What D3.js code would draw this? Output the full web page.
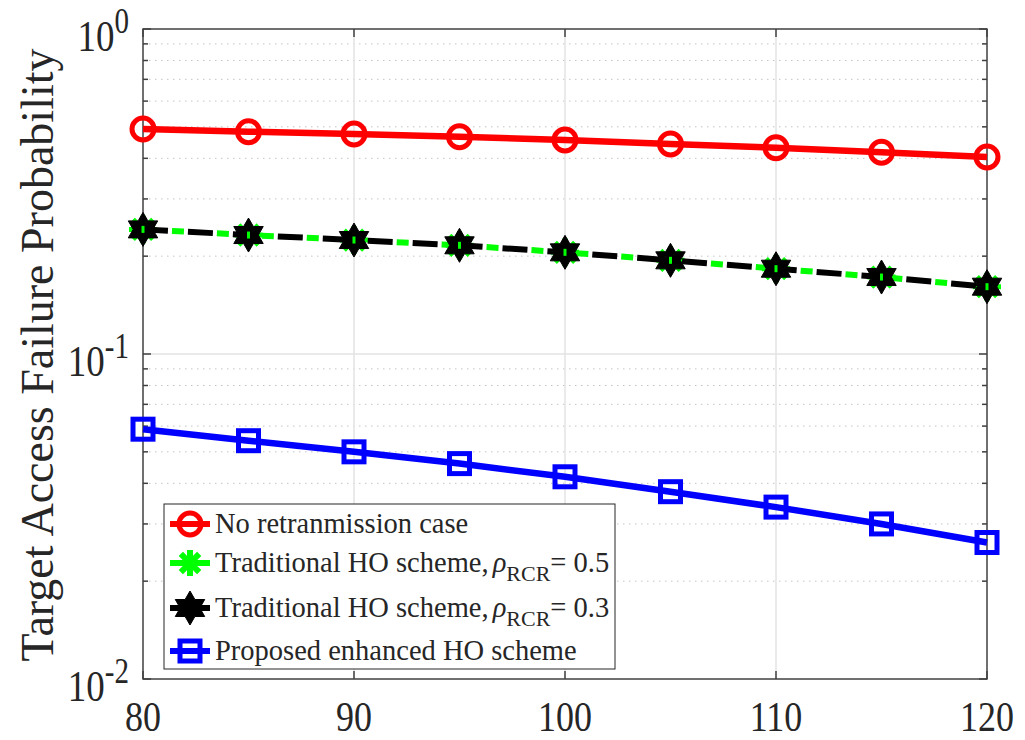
<!DOCTYPE html>
<html>
<head>
<meta charset="utf-8">
<script src="https://cdn.jsdelivr.net/npm/d3@7"></script>
<style>
  html, body { margin: 0; padding: 0; background: #fff; }
  svg { display: block; }
  text { font-family: "Liberation Serif", "Times New Roman", serif; fill: #262626; }
</style>
</head>
<body>
<svg id="chart" width="1025" height="740"></svg>
<script>
// Target access failure probability vs. x (80..120)
const xValues = [80, 85, 90, 95, 100, 105, 110, 115, 120];
const noRetx   = [0.4923, 0.4831, 0.4752, 0.4662, 0.4555, 0.4427, 0.4313, 0.4174, 0.4038];
const trad05   = [0.2418, 0.2323, 0.2242, 0.2160, 0.2055, 0.1942, 0.1830, 0.1725, 0.1611];
const trad03   = [0.2418, 0.2323, 0.2242, 0.2160, 0.2055, 0.1942, 0.1830, 0.1725, 0.1611];
const proposed = [0.0587, 0.0541, 0.0500, 0.0460, 0.0419, 0.0377, 0.0338, 0.0300, 0.0263];
const xTicks = [80, 90, 100, 110, 120];
const yTicks = [1e-2, 1e-1, 1];
const yTickExp = ["-2", "-1", "0"];
const yLabel = "Target Access Failure Probability";

const svg = d3.select("#chart");
const L = 143, R = 987, T = 29, B = 679;
const x = d3.scaleLinear().domain([80, 120]).range([L, R]);
const y = d3.scaleLog().domain([0.01, 1]).range([B, T]);

// grid: minor (dotted) y lines
const minor = [];
[0.01, 0.1].forEach(d => { for (let k = 2; k <= 9; k++) minor.push(d * k); });
const grid = svg.append("g");
grid.selectAll(".ym").data(minor).join("line")
  .attr("x1", L).attr("x2", R)
  .attr("y1", d => y(d)).attr("y2", d => y(d))
  .attr("stroke", "#c4c4c4").attr("stroke-width", 1)
  .attr("stroke-dasharray", "1.5,4.5");
grid.selectAll(".yM").data(yTicks.slice(1, 2)).join("line")
  .attr("x1", L).attr("x2", R)
  .attr("y1", d => y(d)).attr("y2", d => y(d))
  .attr("stroke", "#e3e3e3").attr("stroke-width", 1.5);
grid.selectAll(".xM").data(xTicks.slice(1, -1)).join("line")
  .attr("x1", d => x(d)).attr("x2", d => x(d))
  .attr("y1", T).attr("y2", B)
  .attr("stroke", "#e3e3e3").attr("stroke-width", 1.5);

// axes box and inward ticks
const ax = svg.append("g").attr("stroke", "#404040").attr("stroke-width", 1.5);
ax.append("rect").attr("x", L).attr("y", T).attr("width", R - L).attr("height", B - T)
  .attr("fill", "none");
xTicks.forEach(t => {
  ax.append("line").attr("x1", x(t)).attr("x2", x(t)).attr("y1", B).attr("y2", B - 8);
  ax.append("line").attr("x1", x(t)).attr("x2", x(t)).attr("y1", T).attr("y2", T + 8);
});
yTicks.forEach(t => {
  ax.append("line").attr("x1", L).attr("x2", L + 8).attr("y1", y(t)).attr("y2", y(t));
  ax.append("line").attr("x1", R).attr("x2", R - 8).attr("y1", y(t)).attr("y2", y(t));
});
minor.forEach(t => {
  ax.append("line").attr("x1", L).attr("x2", L + 5).attr("y1", y(t)).attr("y2", y(t));
  ax.append("line").attr("x1", R).attr("x2", R - 5).attr("y1", y(t)).attr("y2", y(t));
});

// tick labels (glyphs drawn slightly tall)
const TS = 1.2;
svg.append("g").selectAll("text").data(xTicks).join("text")
  .attr("transform", d => `translate(${x(d)},731) scale(1,${TS})`)
  .attr("text-anchor", "middle").attr("font-size", 36)
  .text(d => d);
const yl = svg.append("g").selectAll("text").data(yTicks).join("text")
  .attr("transform", d => `translate(129,${y(d) + 22}) scale(1,${TS})`)
  .attr("text-anchor", "end").attr("font-size", 37);
yl.append("tspan").text("10");
yl.append("tspan").attr("dy", -15).attr("font-size", 29).text((d, i) => yTickExp[i]);

svg.append("text")
  .attr("transform", `translate(53,${(T + B) / 2 + 1}) rotate(-90)`)
  .attr("text-anchor", "middle").attr("font-size", 46)
  .text(yLabel);

// marker helpers
function hexagram(r) {
  const pts = [];
  for (let i = 0; i < 12; i++) {
    const a = -Math.PI / 2 + i * Math.PI / 6;
    const rr = i % 2 === 0 ? r : r / Math.sqrt(3);
    pts.push([rr * Math.cos(a), rr * Math.sin(a)]);
  }
  return "M" + pts.map(p => p.join(",")).join("L") + "Z";
}
function asterisk(r) {
  let p = "";
  for (let i = 0; i < 4; i++) {
    const a = i * Math.PI / 4;
    p += `M${-r * Math.cos(a)},${-r * Math.sin(a)}L${r * Math.cos(a)},${r * Math.sin(a)}`;
  }
  return p;
}

const line = d3.line().x((d, i) => x(xValues[i])).y(d => y(d));
const plot = svg.append("g");

// green dash-dot series (underneath)
plot.append("path").datum(trad05).attr("d", line)
  .attr("fill", "none").attr("stroke", "#00ff00").attr("stroke-width", 6)
  .attr("stroke-dasharray", "0,29,12,4");
plot.selectAll(".g05").data(trad05).join("path")
  .attr("transform", (d, i) => `translate(${x(xValues[i])},${y(d)})`)
  .attr("d", asterisk(14)).attr("stroke", "#00ff00").attr("stroke-width", 5).attr("fill", "none");

// black dashed series with hexagrams
plot.append("path").datum(trad03).attr("d", line)
  .attr("fill", "none").attr("stroke", "#000").attr("stroke-width", 6)
  .attr("stroke-dasharray", "25,20");
plot.selectAll(".h03").data(trad03).join("path")
  .attr("transform", (d, i) => `translate(${x(xValues[i])},${y(d)})`)
  .attr("d", hexagram(17)).attr("fill", "#000").attr("stroke", "#000").attr("stroke-width", 1);
plot.selectAll(".c05").data(trad05).join("rect")
  .attr("x", (d, i) => x(xValues[i]) - 1.5).attr("y", d => y(d) - 3.5)
  .attr("width", 3).attr("height", 7).attr("fill", "#00ff00");

// red: no retransmission
plot.append("path").datum(noRetx).attr("d", line)
  .attr("fill", "none").attr("stroke", "#ff0000").attr("stroke-width", 6.5);
plot.selectAll(".cr").data(noRetx).join("circle")
  .attr("cx", (d, i) => x(xValues[i])).attr("cy", d => y(d)).attr("r", 11)
  .attr("fill", "none").attr("stroke", "#ff0000").attr("stroke-width", 5);

// blue: proposed scheme
plot.append("path").datum(proposed).attr("d", line)
  .attr("fill", "none").attr("stroke", "#0000ff").attr("stroke-width", 6.5);
plot.selectAll(".sq").data(proposed).join("rect")
  .attr("x", (d, i) => x(xValues[i]) - 10).attr("y", d => y(d) - 10)
  .attr("width", 20).attr("height", 20)
  .attr("fill", "none").attr("stroke", "#0000ff").attr("stroke-width", 5);

// legend
const lg = svg.append("g");
lg.append("rect").attr("x", 164).attr("y", 504).attr("width", 451).attr("height", 165)
  .attr("fill", "#fff").attr("stroke", "#262626").attr("stroke-width", 1);
const rows = [
  { yy: 524, color: "#ff0000", name: "No retranmission case", mk: "circle" },
  { yy: 563, color: "#00ff00", name: "Traditional HO scheme,", rho: "0.5", mk: "ast" },
  { yy: 608, color: "#000", name: "Traditional HO scheme,", rho: "0.3", mk: "hex" },
  { yy: 651, color: "#0000ff", name: "Proposed enhanced HO scheme", mk: "square" }
];
rows.forEach(r => {
  lg.append("line").attr("x1", 170).attr("x2", 210).attr("y1", r.yy).attr("y2", r.yy)
    .attr("stroke", r.color).attr("stroke-width", 6);
  if (r.mk === "circle") {
    lg.append("circle").attr("cx", 190).attr("cy", r.yy).attr("r", 11)
      .attr("fill", "none").attr("stroke", r.color).attr("stroke-width", 5);
  } else if (r.mk === "ast") {
    lg.append("path").attr("transform", `translate(190,${r.yy})`).attr("d", asterisk(13))
      .attr("stroke", r.color).attr("stroke-width", 6).attr("fill", "none");
  } else if (r.mk === "hex") {
    lg.append("path").attr("transform", `translate(190,${r.yy})`).attr("d", hexagram(17))
      .attr("fill", "#000").attr("stroke", "#000");
  } else {
    lg.append("rect").attr("x", 180).attr("y", r.yy - 10).attr("width", 20).attr("height", 20)
      .attr("fill", "none").attr("stroke", r.color).attr("stroke-width", 5);
  }
  const t = lg.append("text").attr("x", 215).attr("y", r.yy + 9).attr("font-size", 28.5)
    .attr("fill", "#000");
  t.append("tspan").text(r.name);
  if (r.rho) {
    t.append("tspan").attr("dx", 4).attr("font-style", "italic").text("ρ");
    t.append("tspan").attr("dy", 9).attr("font-size", 22).text("RCR");
    t.append("tspan").attr("dy", -9).text("= " + r.rho);
  }
});
</script>
</body>
</html>
